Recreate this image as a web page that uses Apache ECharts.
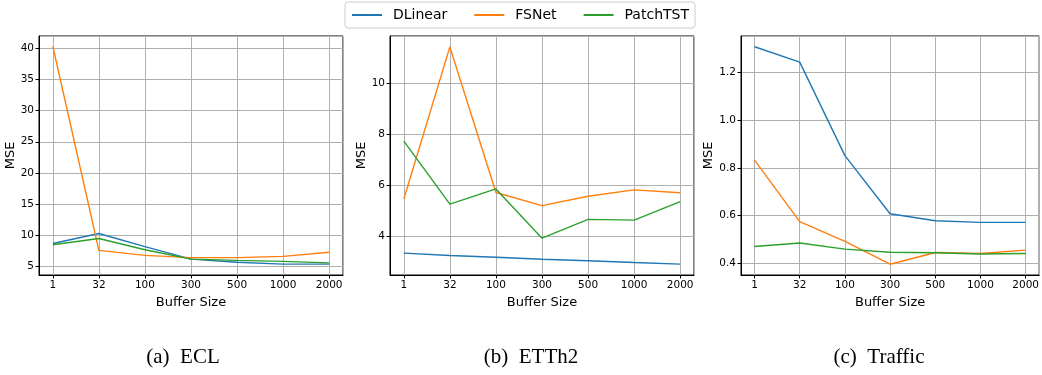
<!DOCTYPE html>
<html>
<head>
<meta charset="utf-8">
<script src="https://cdn.jsdelivr.net/npm/echarts@6/dist/echarts.min.js"></script>
<style>
  html, body { margin: 0; padding: 0; background: #fff; }
  #chart { width: 1042px; height: 375px; }
</style>
</head>
<body>
<div id="chart"></div>
<script>
// buffer sizes on the x axis (plotted at equal spacing)
var bufferSizes = ['1', '32', '100', '300', '500', '1000', '2000'];
var modelNames = ['DLinear', 'FSNet', 'PatchTST'];
var captions = ['(a)\u2002ECL', '(b)\u2002ETTh2', '(c)\u2002Traffic'];

// ECL
var eclDLinear = [8.7, 10.3, 8.2, 6.2, 5.7, 5.4, 5.4];
var eclFSNet = [40.3, 7.6, 6.8, 6.45, 6.45, 6.65, 7.3];
var eclPatchTST = [8.5, 9.5, 7.7, 6.2, 6.0, 5.85, 5.6];

// ETTh2
var etthDLinear = [3.33, 3.24, 3.17, 3.09, 3.03, 2.96, 2.9];
var etthFSNet = [5.46, 11.45, 5.72, 5.2, 5.57, 5.82, 5.71];
var etthPatchTST = [7.74, 5.26, 5.86, 3.92, 4.66, 4.63, 5.36];

// Traffic
var trafficDLinear = [1.306, 1.242, 0.851, 0.608, 0.579, 0.572, 0.572];
var trafficFSNet = [0.832, 0.575, 0.493, 0.397, 0.446, 0.442, 0.456];
var trafficPatchTST = [0.471, 0.486, 0.46, 0.447, 0.445, 0.44, 0.442];

var colors = ['#1f77b4', '#ff7f0e', '#2ca02c'];
var font = 'DejaVu Sans';

// splitNumber picked so the nice step comes out as 5 / 2 / 0.2
var panels = [
    {series: [eclDLinear, eclFSNet, eclPatchTST], min: 3.66, max: 41.94, split: 8, step: 5, left: 39, nameGap: 20},
    {series: [etthDLinear, etthFSNet, etthPatchTST], min: 2.47, max: 11.88, split: 5, step: 2, left: 390, nameGap: 20},
    {series: [trafficDLinear, trafficFSNet, trafficPatchTST], min: 0.352, max: 1.351, split: 5, step: 0.2, left: 741, nameGap: 24}
];
var plotWidth = 304;
var captionCenters = [178, 526, 874];

function pairs(values) {
    return values.map(function (v, i) { return [i, v]; });
}

var grids = [], xAxes = [], yAxes = [], seriesList = [], titles = [];

panels.forEach(function (p, k) {
    grids.push({
        left: p.left, top: 36, width: plotWidth, height: 239,
        show: true, borderColor: '#000', borderWidth: 1, containLabel: false
    });
    xAxes.push({
        type: 'value', gridIndex: k, min: -0.3, max: 6.3, splitNumber: 6,
        name: 'Buffer Size', nameLocation: 'middle', nameGap: 16,
        nameTextStyle: {fontFamily: font, fontSize: 13, color: '#000'},
        axisLine: {show: true, onZero: false, lineStyle: {color: '#000', width: 1}},
        axisTick: {show: true, inside: false, length: 3.5, lineStyle: {color: '#000'}},
        axisLabel: {
            fontFamily: font, fontSize: 10.5, color: '#000', margin: 5,
            showMinLabel: false, showMaxLabel: false,
            formatter: function (v) {
                return Math.abs(v - Math.round(v)) < 1e-6 ? bufferSizes[Math.round(v)] : '';
            }
        },
        splitLine: {show: true, lineStyle: {color: '#b0b0b0', width: 1}}
    });
    yAxes.push({
        type: 'value', gridIndex: k, min: p.min, max: p.max, splitNumber: p.split,
        name: 'MSE', nameLocation: 'middle', nameGap: p.nameGap,
        nameTextStyle: {fontFamily: font, fontSize: 13, color: '#000'},
        axisLine: {show: true, onZero: false, lineStyle: {color: '#000', width: 1}},
        axisTick: {show: true, inside: false, length: 3.5, lineStyle: {color: '#000'}},
        axisLabel: {
            fontFamily: font, fontSize: 10.5, color: '#000', margin: 5,
            showMinLabel: false, showMaxLabel: false,
            formatter: function (v) {
                var r = v / p.step;
                if (Math.abs(r - Math.round(r)) > 1e-6) return '';
                return p.step < 1 ? v.toFixed(1) : String(Math.round(v));
            }
        },
        splitLine: {show: true, lineStyle: {color: '#b0b0b0', width: 1}}
    });
    p.series.forEach(function (values, j) {
        seriesList.push({
            name: modelNames[j], type: 'line', xAxisIndex: k, yAxisIndex: k,
            data: pairs(values), symbol: 'none', silent: true,
            lineStyle: {color: colors[j], width: 1.4},
            itemStyle: {color: colors[j]},
            z: 2 + j, animation: false
        });
    });
    titles.push({
        text: captions[k], left: captionCenters[k], top: 342, textAlign: 'center',
        textStyle: {fontFamily: 'Liberation Serif', fontSize: 21, fontWeight: 'normal', color: '#000'}
    });
});

var dom = document.getElementById('chart');
var myChart = echarts.init(dom, null, {renderer: 'canvas'});

var option = {
    backgroundColor: '#fff',
    animation: false,
    title: titles,
    legend: {
        data: modelNames, top: 2, left: 345, orient: 'horizontal',
        itemWidth: 30, itemHeight: 2, itemGap: 26,
        padding: [6, 6, 6, 6],
        borderColor: '#cccccc', borderWidth: 1, borderRadius: 3,
        textStyle: {fontFamily: font, fontSize: 14, color: '#000', padding: [0, 0, 0, 6]}
    },
    grid: grids,
    xAxis: xAxes,
    yAxis: yAxes,
    series: seriesList
};

myChart.setOption(option, true);
</script>
</body>
</html>
